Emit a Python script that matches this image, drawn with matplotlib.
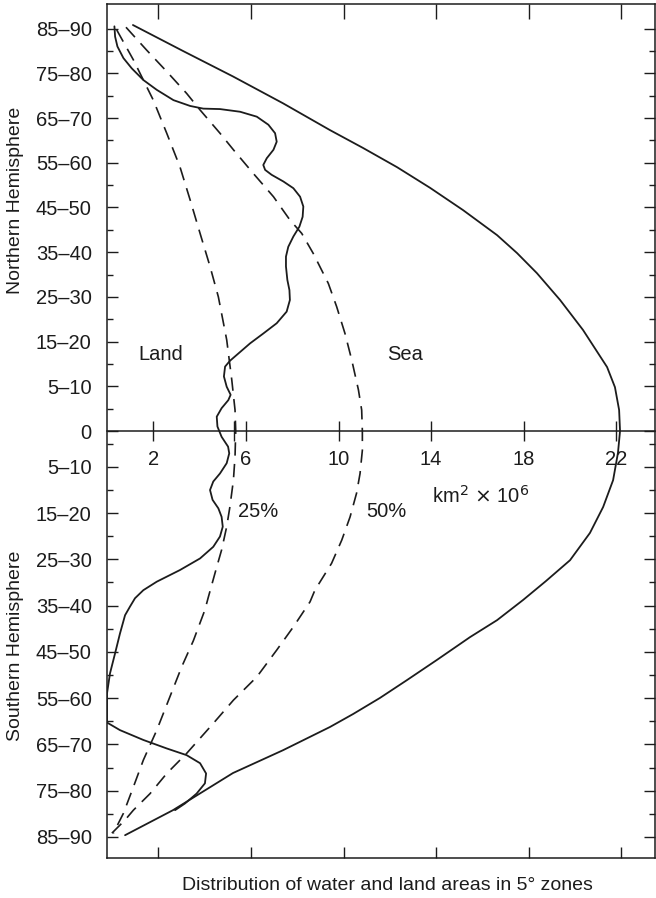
import numpy as np
import matplotlib
matplotlib.use("Agg")
import matplotlib.pyplot as plt

plt.rcParams['font.family'] = ['Liberation Sans', 'DejaVu Sans']

# latitude zone labels, north (upper half) and south (lower half)
north_labels = ['0', '5–10', '15–20', '25–30', '35–40', '45–50', '55–60', '65–70', '75–80', '85–90']
south_labels = ['5–10', '15–20', '25–30', '35–40', '45–50', '55–60', '65–70', '75–80', '85–90']
area_ticks = [2, 6, 10, 14, 18, 22]

# sea area per zone (outer solid curve), km2 x 10^6 vs. zone row
sea_x = [1.12, 3.28, 5.44, 7.6, 9.63, 11.06, 12.53, 13.95, 15.38, 16.85, 17.71, 18.57, 19.57, 20.56,
         21.6, 21.94, 22.12, 22.16, 22.07, 21.86, 21.43, 20.86, 20.0, 18.95, 17.97, 16.85, 15.68,
         14.25, 12.96, 11.79, 10.63, 9.63, 7.6, 5.44, 2.85, 0.78]
sea_y = [9.08, 8.5, 7.93, 7.33, 6.73, 6.33, 5.9, 5.44, 4.94, 4.38, 3.98, 3.53, 2.93, 2.26,
         1.43, 0.98, 0.47, 0.0, -0.49, -1.1, -1.7, -2.28, -2.89, -3.36, -3.78, -4.23, -4.61,
         -5.12, -5.57, -5.97, -6.33, -6.62, -7.14, -7.65, -8.48, -9.04]

# land area per zone (wiggly solid curve)
land_x = [0.32, 0.35, 0.45, 0.71, 1.07, 1.57, 2.15, 2.87, 3.59, 4.16, 4.88, 5.75, 6.47, 6.97,
          7.26, 7.33, 7.19, 6.90, 6.75, 6.83, 7.11, 7.62, 8.05, 8.34, 8.48, 8.45, 8.31, 8.05,
          7.83, 7.73, 7.73, 7.79, 7.88, 7.90, 7.76, 7.33, 6.75, 6.18, 5.60, 5.31, 5.10, 5.05,
          5.17, 5.34, 5.24, 4.95, 4.74, 4.77, 4.95, 5.23, 5.28, 5.17, 4.88, 4.59, 4.45, 4.56,
          4.81, 4.95, 5.00, 4.88, 4.59, 4.02, 3.15, 2.15, 1.57, 1.21, 0.99, 0.78, 0.56, 0.35,
          0.13, 0.0, 0.0, 0.0, 0.56, 1.57, 2.58, 3.44, 4.02, 4.28, 4.23, 3.87, 3.37, 2.94]
land_y = [9.05, 8.82, 8.60, 8.34, 8.11, 7.85, 7.63, 7.40, 7.27, 7.21, 7.20, 7.14, 7.03, 6.85,
          6.66, 6.47, 6.29, 6.10, 5.95, 5.84, 5.73, 5.58, 5.43, 5.24, 5.02, 4.79, 4.57, 4.35,
          4.12, 3.90, 3.68, 3.38, 3.15, 2.93, 2.67, 2.41, 2.18, 1.96, 1.70, 1.57, 1.44, 1.22,
          0.99, 0.81, 0.69, 0.51, 0.32, 0.10, -0.13, -0.35, -0.50, -0.72, -0.95, -1.13, -1.32, -1.54,
          -1.73, -1.92, -2.14, -2.36, -2.59, -2.85, -3.11, -3.37, -3.56, -3.74, -3.93, -4.12, -4.53, -4.97,
          -5.42, -5.87, -6.24, -6.52, -6.69, -6.91, -7.10, -7.25, -7.43, -7.66, -7.88, -8.11, -8.33, -8.48]

# 25 % and 50 % reference curves (dashed)
q25_x = [0.42, 1.14, 2.0, 2.58, 3.15, 3.59, 4.02, 4.45, 4.81, 5.17, 5.39, 5.53, 5.56, 5.53,
         5.46, 5.31, 5.17, 4.95, 4.74, 4.38, 4.23, 3.73, 3.23, 2.72, 2.15, 1.57, 1.14, 0.71, 0.27]
q25_y = [8.97, 8.30, 7.40, 6.66, 5.91, 5.17, 4.42, 3.68, 3.0, 2.04, 1.14, 0.47, 0.0, -0.57,
         -1.1, -1.69, -2.14, -2.66, -3.04, -3.71, -4.0, -4.69, -5.27, -5.94, -6.69, -7.36, -7.96, -8.55, -9.0]
q50_x = [0.82, 1.71, 2.58, 3.44, 4.02, 4.88, 5.46, 6.32, 7.19, 7.9, 8.41, 8.91, 9.56, 9.92,
         10.28, 10.57, 10.86, 11.0, 11.03, 11.03, 10.93, 10.78, 10.50, 10.14, 9.7, 8.98, 8.77,
         8.05, 7.33, 6.47, 5.46, 4.59, 3.44, 2.58, 1.86, 1.14, 0.78, 0.2]
q50_y = [9.03, 8.52, 8.04, 7.55, 7.18, 6.66, 6.29, 5.76, 5.24, 4.72, 4.42, 3.97, 3.30, 2.78,
         2.18, 1.59, 0.92, 0.47, 0.0, -0.43, -0.95, -1.39, -1.92, -2.44, -2.96, -3.56, -3.82,
         -4.38, -4.9, -5.5, -6.02, -6.54, -7.21, -7.66, -8.11, -8.48, -8.7, -9.0]

ink = '#1c1c1c'
fs = 14.5

fig = plt.figure(figsize=(6.56, 8.98), dpi=100)
ax = fig.add_axes([107 / 656, 40 / 898, 548 / 656, 854 / 898])

solid = dict(color=ink, lw=1.3, solid_joinstyle='round', solid_capstyle='round')
ax.plot(sea_x, sea_y, **solid)
ax.plot(land_x, land_y, **solid)
ax.plot(q25_x, q25_y, color=ink, lw=1.2, dashes=(8, 5))
ax.plot(q50_x, q50_y, color=ink, lw=1.2, dashes=(8, 5))

ax.set_xlim(0, 23.67)
ax.set_ylim(-9.55, 9.55)

# zone rows: north evenly spaced, south slightly wider
north_pos = np.arange(10)
south_pos = -0.8 - 1.035 * np.arange(9)
ax.set_yticks(list(north_pos) + list(south_pos))
ax.set_yticklabels(north_labels + south_labels)
minor_y = list(np.arange(9) + 0.5) + [-0.3] + list((south_pos[:-1] + south_pos[1:]) / 2)
ax.set_yticks(minor_y, minor=True)
ax.tick_params(axis='y', which='major', direction='in', length=8, width=1, pad=11,
               labelsize=fs, colors=ink, right=True)
ax.tick_params(axis='y', which='minor', direction='in', length=4, width=1, right=True, colors=ink)

# area axis runs across the equator
ax.spines['bottom'].set_position(('data', 0))
ax.set_xticks(area_ticks)
ax.set_xticks([5.5], minor=True)
ax.tick_params(axis='x', which='both', direction='inout', length=15, width=1, pad=6,
               labelsize=fs, colors=ink)
for s in ax.spines.values():
    s.set_color(ink)
    s.set_linewidth(1.1)

# frame ticks along the top and bottom edges
frame_ticks = [t + 0.22 for t in area_ticks]
top = ax.secondary_xaxis('top')
top.set_xticks(frame_ticks)
top.tick_params(direction='in', length=11, width=1, labeltop=False, colors=ink)
top.spines['top'].set_visible(False)
bot = ax.secondary_xaxis('bottom')
bot.set_xticks(frame_ticks)
bot.tick_params(direction='in', length=8, width=1, labelbottom=False, colors=ink)
bot.spines['bottom'].set_color(ink)
bot.spines['bottom'].set_linewidth(1.1)

ax.text(2.33, 1.70, 'Land', fontsize=fs, color=ink, ha='center', va='center')
ax.text(12.87, 1.70, 'Sea', fontsize=fs, color=ink, ha='center', va='center')
ax.text(5.66, -1.81, '25%', fontsize=fs, color=ink, ha='left', va='center')
ax.text(11.19, -1.79, '50%', fontsize=fs, color=ink, ha='left', va='center')
ax.text(14.04, -1.45, r'km$^2$ $\times$ 10$^6$', fontsize=fs, color=ink, ha='left', va='center')

fig.text(16 / 656, 1 - 200 / 898, 'Northern Hemisphere', rotation=90, fontsize=14,
         color=ink, ha='center', va='center')
fig.text(16 / 656, 1 - 646 / 898, 'Southern Hemisphere', rotation=90, fontsize=14,
         color=ink, ha='center', va='center')
fig.text(387 / 656, 1 - 885 / 898, 'Distribution of water and land areas in 5° zones',
         fontsize=14, color=ink, ha='center', va='center')

fig.savefig('out.png', dpi=100, facecolor='white')
